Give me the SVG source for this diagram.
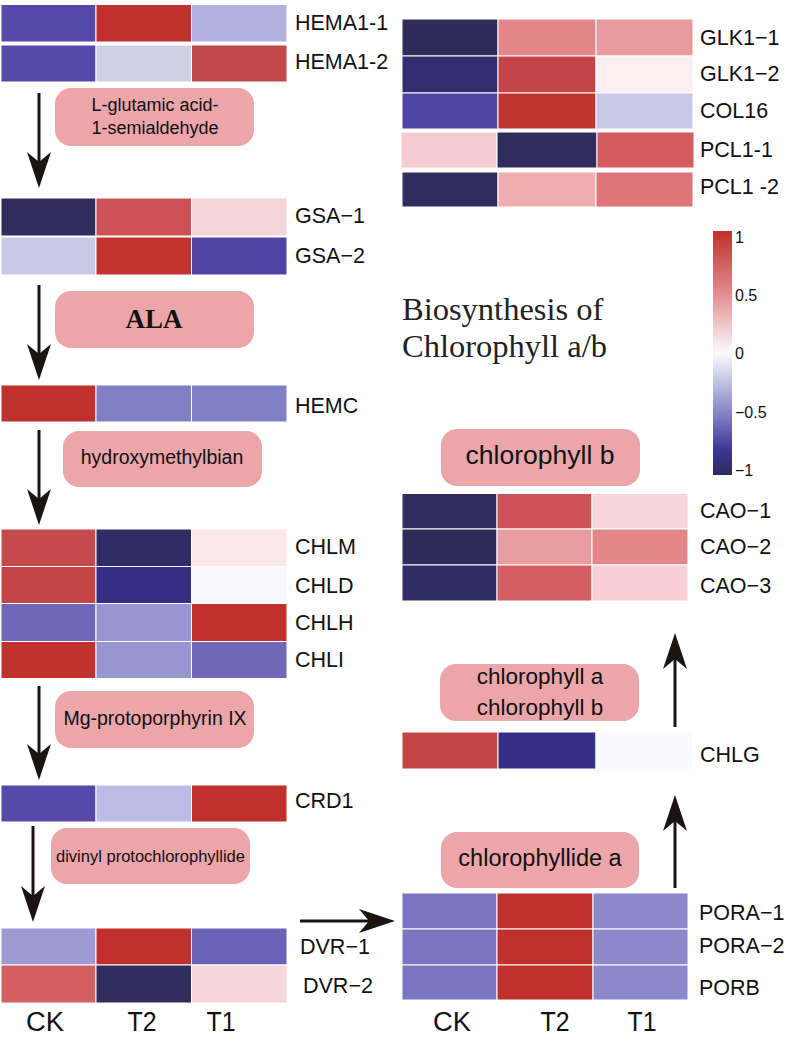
<svg xmlns="http://www.w3.org/2000/svg" width="789" height="1037" viewBox="0 0 789 1037">
<style>
.cell{stroke:#ffffff;stroke-width:1}
.lbl{font-family:"Liberation Sans",Arial,sans-serif;font-size:21.5px;fill:#111}
.box{fill:#eca5a9}
.bt{font-family:"Liberation Sans",Arial,sans-serif;fill:#111;text-anchor:middle}
.ax{font-family:"Liberation Sans",Arial,sans-serif;font-size:27px;fill:#111;text-anchor:middle}
.cb{font-family:"Liberation Sans",Arial,sans-serif;font-size:16px;fill:#111}
.arr{stroke:#1a1414;stroke-width:3;fill:none;marker-end:url(#ah)}
</style>
<defs>
<marker id="ah" viewBox="0 0 36 24" refX="16" refY="12" markerWidth="36" markerHeight="24" orient="auto" markerUnits="userSpaceOnUse">
<path d="M0,0 L36,12 L0,24 L10,12 Z" fill="#1a1414"/>
</marker>
<linearGradient id="cbg" x1="0" y1="0" x2="0" y2="1">
<stop offset="0" stop-color="#bf2f2b"/>
<stop offset="0.25" stop-color="#e08a8d"/>
<stop offset="0.5" stop-color="#fbfbfd"/>
<stop offset="0.75" stop-color="#8482c6"/>
<stop offset="0.9" stop-color="#3d3392"/>
<stop offset="1" stop-color="#2e2b5a"/>
</linearGradient>
</defs>
<rect width="789" height="1037" fill="#ffffff"/>

<g id="connectors">
<line class="arr" x1="39" y1="93" x2="39" y2="168"/>
<line class="arr" x1="39" y1="285" x2="39" y2="360"/>
<line class="arr" x1="39" y1="430" x2="39" y2="505"/>
<line class="arr" x1="39" y1="686" x2="39" y2="760"/>
<line class="arr" x1="33" y1="826" x2="33" y2="902"/>
<line class="arr" x1="300" y1="921" x2="375" y2="921"/>
<line class="arr" x1="675" y1="888" x2="675" y2="815"/>
<line class="arr" x1="675" y1="727" x2="675" y2="653"/>
</g>

<g id="HEMA1-1">
<rect class="cell" x="1" y="4.5" width="95" height="37.5" fill="#5548a8"/>
<rect class="cell" x="96" y="4.5" width="95.5" height="37.5" fill="#c0302c"/>
<rect class="cell" x="191.5" y="4.5" width="95.5" height="37.5" fill="#b3b1e0"/>
<text class="lbl" x="295" y="30">HEMA1-1</text>
</g>
<g id="HEMA1-2">
<rect class="cell" x="1" y="45" width="95" height="37" fill="#5548a8"/>
<rect class="cell" x="96" y="45" width="95.5" height="37" fill="#d2d0e8"/>
<rect class="cell" x="191.5" y="45" width="95.5" height="37" fill="#c0474b"/>
<text class="lbl" x="295" y="69">HEMA1-2</text>
</g>
<g id="box-gsa">
<rect class="box" x="55" y="88" width="199" height="58" rx="16"/>
<text class="bt" x="155" y="111" font-size="18">L-glutamic acid-</text>
<text class="bt" x="155" y="134" font-size="18">1-semialdehyde</text>
</g>
<g id="GSA-1">
<rect class="cell" x="1" y="198" width="95" height="38" fill="#302c5e"/>
<rect class="cell" x="96" y="198" width="95.5" height="38" fill="#cd5257"/>
<rect class="cell" x="191.5" y="198" width="95.5" height="38" fill="#f5d5d9"/>
<text class="lbl" x="295" y="223">GSA−1</text>
</g>
<g id="GSA-2">
<rect class="cell" x="1" y="237" width="95" height="38" fill="#c8c9e8"/>
<rect class="cell" x="96" y="237" width="95.5" height="38" fill="#c0332f"/>
<rect class="cell" x="191.5" y="237" width="95.5" height="38" fill="#5144a4"/>
<text class="lbl" x="295" y="263">GSA−2</text>
</g>
<g id="box-ala">
<rect class="box" x="55" y="291" width="199" height="57" rx="16"/>
<text x="154" y="328" text-anchor="middle" font-family="'Liberation Serif','Times New Roman',serif" font-weight="bold" font-size="27" fill="#111">ALA</text>
</g>
<g id="HEMC">
<rect class="cell" x="1" y="385" width="95" height="37" fill="#c0302c"/>
<rect class="cell" x="96" y="385" width="95.5" height="37" fill="#8180c4"/>
<rect class="cell" x="191.5" y="385" width="95.5" height="37" fill="#8180c4"/>
<text class="lbl" x="295" y="413">HEMC</text>
</g>
<g id="box-hmb">
<rect class="box" x="63" y="431" width="199" height="56" rx="16"/>
<text class="bt" x="162" y="464" font-size="19.5">hydroxymethylbian</text>
</g>
<g id="CHLM">
<rect class="cell" x="1" y="529" width="95" height="37.5" fill="#c54a4c"/>
<rect class="cell" x="96" y="529" width="95.5" height="37.5" fill="#302c66"/>
<rect class="cell" x="191.5" y="529" width="95.5" height="37.5" fill="#fbe6ea"/>
<text class="lbl" x="295" y="554">CHLM</text>
</g>
<g id="CHLD">
<rect class="cell" x="1" y="566.5" width="95" height="37" fill="#c54446"/>
<rect class="cell" x="96" y="566.5" width="95.5" height="37" fill="#352e86"/>
<rect class="cell" x="191.5" y="566.5" width="95.5" height="37" fill="#f8f8fe"/>
<text class="lbl" x="295" y="593">CHLD</text>
</g>
<g id="CHLH">
<rect class="cell" x="1" y="603.5" width="95" height="38" fill="#6f68b8"/>
<rect class="cell" x="96" y="603.5" width="95.5" height="38" fill="#9896d0"/>
<rect class="cell" x="191.5" y="603.5" width="95.5" height="38" fill="#c0302c"/>
<text class="lbl" x="295" y="630">CHLH</text>
</g>
<g id="CHLI">
<rect class="cell" x="1" y="641.5" width="95" height="37" fill="#c0302c"/>
<rect class="cell" x="96" y="641.5" width="95.5" height="37" fill="#9896d0"/>
<rect class="cell" x="191.5" y="641.5" width="95.5" height="37" fill="#6f68b8"/>
<text class="lbl" x="295" y="667">CHLI</text>
</g>
<g id="box-mgp">
<rect class="box" x="55" y="691" width="199" height="57" rx="16"/>
<text class="bt" x="155" y="725" font-size="19.5">Mg-protoporphyrin IX</text>
</g>
<g id="CRD1">
<rect class="cell" x="1" y="785" width="95" height="37" fill="#5548a8"/>
<rect class="cell" x="96" y="785" width="95.5" height="37" fill="#bdbbe5"/>
<rect class="cell" x="191.5" y="785" width="95.5" height="37" fill="#c0302c"/>
<text class="lbl" x="295" y="808">CRD1</text>
</g>
<g id="box-dvp">
<rect class="box" x="51" y="828" width="199" height="56" rx="16"/>
<text class="bt" x="150.5" y="862" font-size="16.5">divinyl protochlorophyllide</text>
</g>
<g id="DVR-1">
<rect class="cell" x="1" y="928" width="95" height="37" fill="#9d9bd3"/>
<rect class="cell" x="96" y="928" width="95.5" height="37" fill="#c0302c"/>
<rect class="cell" x="191.5" y="928" width="95.5" height="37" fill="#6a62b6"/>
<text class="lbl" x="300" y="954">DVR−1</text>
</g>
<g id="DVR-2">
<rect class="cell" x="1" y="965" width="95" height="38" fill="#d35f62"/>
<rect class="cell" x="96" y="965" width="95.5" height="38" fill="#302c5e"/>
<rect class="cell" x="191.5" y="965" width="95.5" height="38" fill="#f6d6da"/>
<text class="lbl" x="303" y="993">DVR−2</text>
</g>
<g id="axis-left">
<text class="ax" x="45" y="1031" textLength="38" lengthAdjust="spacingAndGlyphs">CK</text>
<text class="ax" x="142" y="1031" textLength="29" lengthAdjust="spacingAndGlyphs">T2</text>
<text class="ax" x="221" y="1031" textLength="29" lengthAdjust="spacingAndGlyphs">T1</text>
</g>

<g id="GLK1-1">
<rect class="cell" x="402" y="19" width="96" height="37" fill="#302c5a"/>
<rect class="cell" x="498" y="19" width="98" height="37" fill="#e3868a"/>
<rect class="cell" x="596" y="19" width="97" height="37" fill="#e99a9e"/>
<text class="lbl" x="700" y="45">GLK1−1</text>
</g>
<g id="GLK1-2">
<rect class="cell" x="402" y="56" width="96" height="37" fill="#332c6e"/>
<rect class="cell" x="498" y="56" width="98" height="37" fill="#c44447"/>
<rect class="cell" x="596" y="56" width="97" height="37" fill="#fbeff1"/>
<text class="lbl" x="700" y="81">GLK1−2</text>
</g>
<g id="COL16">
<rect class="cell" x="402" y="93" width="96" height="36" fill="#5144a4"/>
<rect class="cell" x="498" y="93" width="98" height="36" fill="#c0342f"/>
<rect class="cell" x="596" y="93" width="97" height="36" fill="#c8c9e8"/>
<text class="lbl" x="700" y="118">COL16</text>
</g>
<g id="PCL1-1">
<rect class="cell" x="401" y="132" width="96" height="36" fill="#f5ccd1"/>
<rect class="cell" x="497" y="132" width="100" height="36" fill="#302c5e"/>
<rect class="cell" x="597" y="132" width="97" height="36" fill="#d35b5e"/>
<text class="lbl" x="700" y="157">PCL1-1</text>
</g>
<g id="PCL1-2">
<rect class="cell" x="402" y="172" width="96" height="35" fill="#302c5e"/>
<rect class="cell" x="498" y="172" width="98" height="35" fill="#efadb0"/>
<rect class="cell" x="596" y="172" width="97" height="35" fill="#de7579"/>
<text class="lbl" x="700" y="194">PCL1 -2</text>
</g>
<g id="title">
<text font-family="'Liberation Serif','Times New Roman',serif" font-size="32.5" fill="#222">
<tspan x="402" y="320">Biosynthesis of</tspan>
<tspan x="402" y="357">Chlorophyll a/b</tspan>
</text>
</g>
<g id="colorbar">
<rect x="713" y="231" width="19" height="244" fill="url(#cbg)"/>
<text class="cb" x="735" y="243">1</text>
<text class="cb" x="735" y="301">0.5</text>
<text class="cb" x="735" y="359">0</text>
<text class="cb" x="735" y="418">−0.5</text>
<text class="cb" x="735" y="476">−1</text>
</g>
<g id="box-chlb">
<rect class="box" x="441" y="429" width="199" height="57" rx="16"/>
<text class="bt" x="540" y="464" font-size="25" textLength="149" lengthAdjust="spacingAndGlyphs">chlorophyll b</text>
</g>
<g id="CAO-1">
<rect class="cell" x="402" y="493.5" width="95" height="35.5" fill="#302c5e"/>
<rect class="cell" x="497" y="493.5" width="95" height="35.5" fill="#cd5257"/>
<rect class="cell" x="592" y="493.5" width="96" height="35.5" fill="#f6d6da"/>
<text class="lbl" x="700" y="518">CAO−1</text>
</g>
<g id="CAO-2">
<rect class="cell" x="402" y="529" width="95" height="36" fill="#302c5a"/>
<rect class="cell" x="497" y="529" width="95" height="36" fill="#ea9da0"/>
<rect class="cell" x="592" y="529" width="96" height="36" fill="#e2878a"/>
<text class="lbl" x="700" y="554">CAO−2</text>
</g>
<g id="CAO-3">
<rect class="cell" x="402" y="565" width="95" height="36" fill="#302c66"/>
<rect class="cell" x="497" y="565" width="95" height="36" fill="#d35f62"/>
<rect class="cell" x="592" y="565" width="96" height="36" fill="#f6d0d5"/>
<text class="lbl" x="700" y="593">CAO−3</text>
</g>
<g id="box-chlab">
<rect class="box" x="440" y="664" width="199" height="57" rx="16"/>
<text class="bt" x="540" y="684" font-size="22.5">chlorophyll a</text>
<text class="bt" x="540" y="715" font-size="22.5">chlorophyll b</text>
</g>
<g id="CHLG">
<rect class="cell" x="402" y="732" width="96" height="37" fill="#c54446"/>
<rect class="cell" x="498" y="732" width="98" height="37" fill="#352e86"/>
<rect class="cell" x="596" y="732" width="96" height="37" fill="#f8f8fe"/>
<text class="lbl" x="700" y="762">CHLG</text>
</g>
<g id="box-chlidea">
<rect class="box" x="441" y="832" width="198" height="56" rx="16"/>
<text class="bt" x="540" y="866" font-size="23.5">chlorophyllide a</text>
</g>
<g id="PORA-1">
<rect class="cell" x="402" y="893" width="95" height="36" fill="#7a75c0"/>
<rect class="cell" x="497" y="893" width="96" height="36" fill="#c0302c"/>
<rect class="cell" x="593" y="893" width="95" height="36" fill="#8c8acc"/>
<text class="lbl" x="699" y="920">PORA−1</text>
</g>
<g id="PORA-2">
<rect class="cell" x="402" y="929" width="95" height="36" fill="#7a75c0"/>
<rect class="cell" x="497" y="929" width="96" height="36" fill="#c0302c"/>
<rect class="cell" x="593" y="929" width="95" height="36" fill="#8c8acc"/>
<text class="lbl" x="699" y="953">PORA−2</text>
</g>
<g id="PORB">
<rect class="cell" x="402" y="965" width="95" height="35" fill="#7a75c0"/>
<rect class="cell" x="497" y="965" width="96" height="35" fill="#c0302c"/>
<rect class="cell" x="593" y="965" width="95" height="35" fill="#8c8acc"/>
<text class="lbl" x="699" y="995">PORB</text>
</g>
<g id="axis-right">
<text class="ax" x="452" y="1031" textLength="38" lengthAdjust="spacingAndGlyphs">CK</text>
<text class="ax" x="555" y="1031" textLength="29" lengthAdjust="spacingAndGlyphs">T2</text>
<text class="ax" x="642" y="1031" textLength="29" lengthAdjust="spacingAndGlyphs">T1</text>
</g>
</svg>
